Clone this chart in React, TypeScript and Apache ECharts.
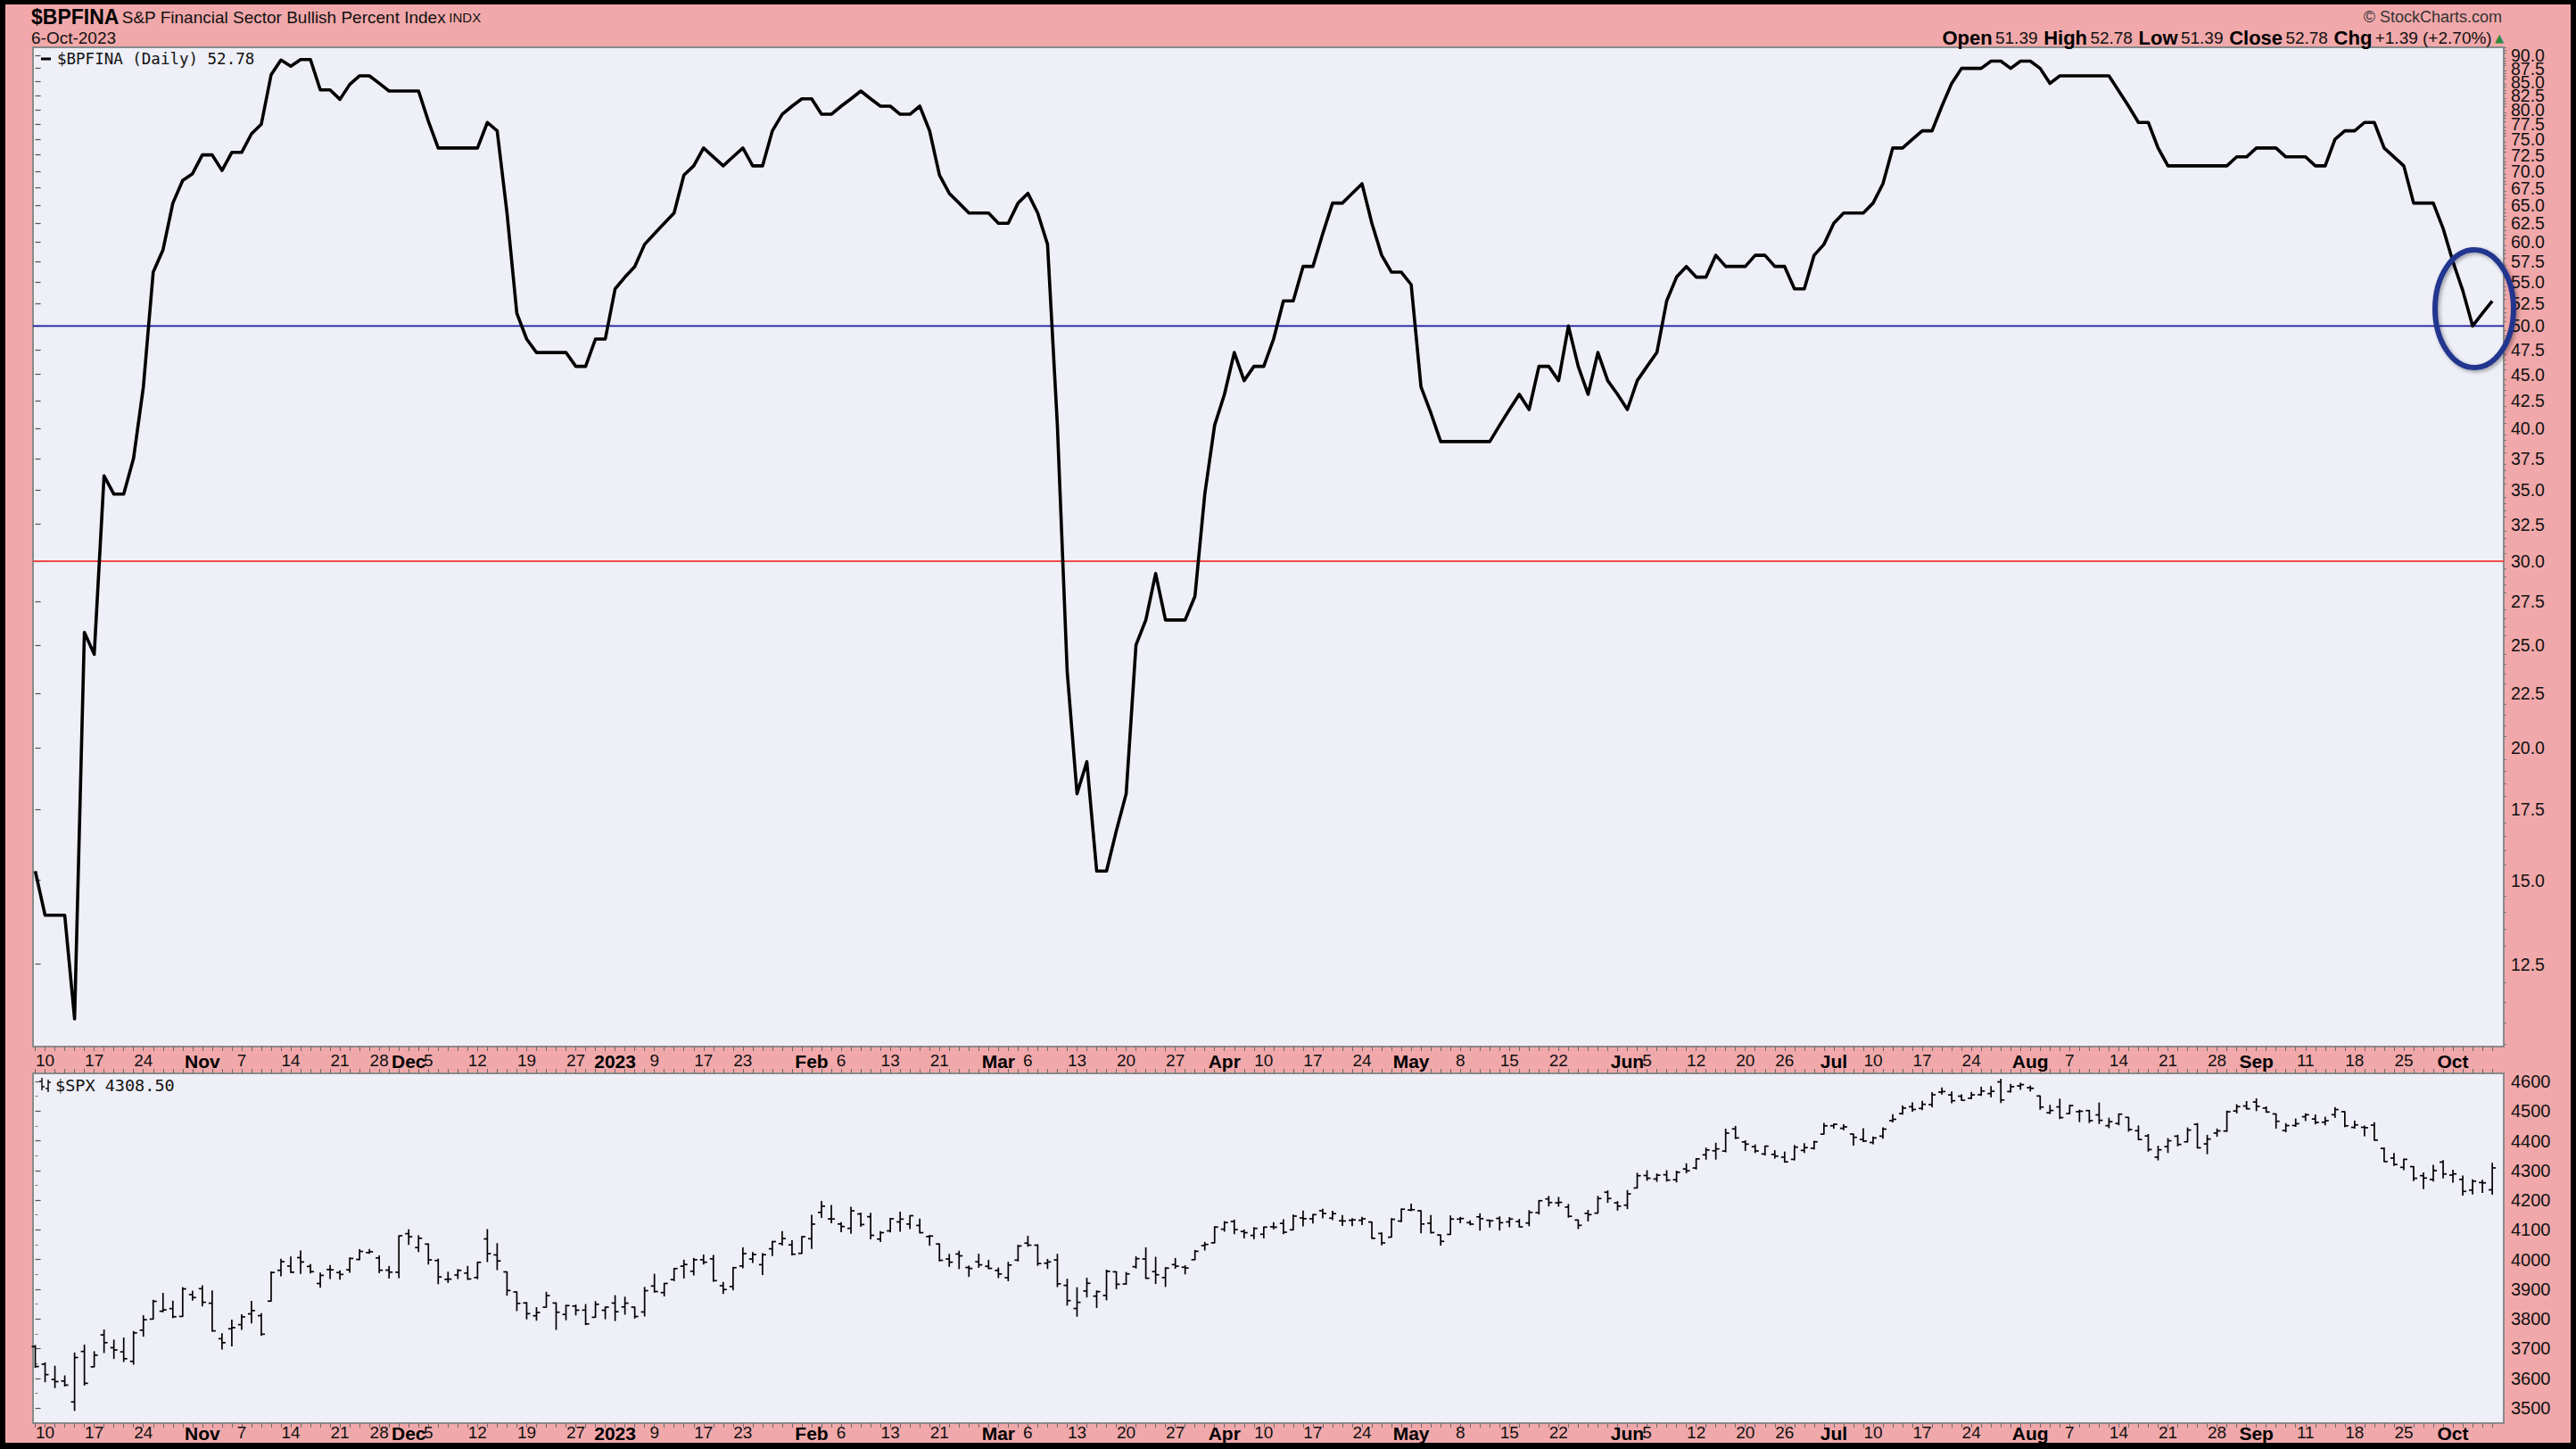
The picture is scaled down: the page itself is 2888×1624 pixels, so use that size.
import React, { useEffect, useRef } from "react";
import * as echarts from "echarts";

// ---------- calendar ----------
const startDate = "2022-10-07";
const endDate = "2023-10-06";
const marketHolidays = [
  "2022-11-24", "2022-12-26", "2023-01-02", "2023-01-16", "2023-02-20",
  "2023-04-07", "2023-05-29", "2023-06-19", "2023-07-04", "2023-09-04",
];

// ---------- date axis tick labels ----------
const tickDates = [
  "2022-10-10", "2022-10-17", "2022-10-24", "2022-11-01", "2022-11-07", "2022-11-14", "2022-11-21", "2022-11-28",
  "2022-12-01", "2022-12-05", "2022-12-12", "2022-12-19", "2022-12-27", "2023-01-03", "2023-01-09", "2023-01-17",
  "2023-01-23", "2023-02-01", "2023-02-06", "2023-02-13", "2023-02-21", "2023-03-01", "2023-03-06", "2023-03-13",
  "2023-03-20", "2023-03-27", "2023-04-03", "2023-04-10", "2023-04-17", "2023-04-24", "2023-05-01", "2023-05-08",
  "2023-05-15", "2023-05-22", "2023-06-01", "2023-06-05", "2023-06-12", "2023-06-20", "2023-06-26", "2023-07-03",
  "2023-07-10", "2023-07-17", "2023-07-24", "2023-08-01", "2023-08-07", "2023-08-14", "2023-08-21", "2023-08-28",
  "2023-09-01", "2023-09-11", "2023-09-18", "2023-09-25", "2023-10-02",
];
const tickTexts = [
  "10", "17", "24", "Nov", "7", "14", "21", "28",
  "Dec", "5", "12", "19", "27", "2023", "9", "17",
  "23", "Feb", "6", "13", "21", "Mar", "6", "13",
  "20", "27", "Apr", "10", "17", "24", "May", "8",
  "15", "22", "Jun", "5", "12", "20", "26", "Jul",
  "10", "17", "24", "Aug", "7", "14", "21", "28",
  "Sep", "11", "18", "25", "Oct",
];

// ---------- y axis labels ----------
const bpTickLabels = [12.5, 15, 17.5, 20, 22.5, 25, 27.5, 30, 32.5, 35, 37.5, 40, 42.5, 45, 47.5, 50, 52.5, 55, 57.5, 60, 62.5, 65, 67.5, 70, 72.5, 75, 77.5, 80, 82.5, 85, 87.5, 90];
const spxTickLabels = [3500, 3600, 3700, 3800, 3900, 4000, 4100, 4200, 4300, 4400, 4500, 4600];

// ---------- reference levels ----------
const upperLevel = 50;
const lowerLevel = 30;

// ---------- $BPFINA daily values ----------
const bpValues = [
  15.3, 13.9, 13.9, 13.9, 11.1, 25.7, 24.5, 36.1, 34.7, 34.7,
  37.5, 43.8, 56.2, 59.0, 65.3, 68.6, 69.6, 72.5, 72.5, 70.1,
  72.9, 72.9, 75.9, 77.5, 86.3, 89.1, 87.9, 89.2, 89.2, 83.5,
  83.5, 81.8, 84.5, 86.1, 86.1, 84.7, 83.3, 83.3, 83.3, 83.3,
  78.0, 73.6, 73.6, 73.6, 73.6, 73.6, 77.8, 76.4, 63.9, 51.4,
  48.6, 47.2, 47.2, 47.2, 47.2, 45.8, 45.8, 48.6, 48.6, 54.2,
  55.6, 56.9, 59.7, 61.1, 62.5, 63.9, 69.4, 70.8, 73.6, 72.2,
  70.8, 72.2, 73.6, 70.8, 70.8, 76.4, 79.2, 80.6, 81.9, 81.9,
  79.2, 79.2, 80.6, 81.9, 83.3, 81.9, 80.6, 80.6, 79.2, 79.2,
  80.6, 76.4, 69.4, 66.7, 65.3, 63.9, 63.9, 63.9, 62.5, 62.5,
  65.3, 66.7, 63.9, 59.7, 40.3, 23.6, 18.1, 19.4, 15.3, 15.3,
  16.7, 18.1, 25.0, 26.4, 29.2, 26.4, 26.4, 26.4, 27.8, 34.7,
  40.3, 43.1, 47.2, 44.4, 45.8, 45.8, 48.6, 52.8, 52.8, 56.9,
  56.9, 61.1, 65.3, 65.3, 66.7, 68.1, 62.5, 58.3, 56.2, 56.2,
  54.7, 43.8, 41.4, 38.9, 38.9, 38.9, 38.9, 38.9, 38.9, 40.3,
  41.7, 43.1, 41.7, 45.8, 45.8, 44.4, 50.0, 45.8, 43.1, 47.2,
  44.4, 43.1, 41.7, 44.4, 45.8, 47.2, 52.8, 55.6, 56.9, 55.6,
  55.6, 58.3, 56.9, 56.9, 56.9, 58.3, 58.3, 56.9, 56.9, 54.2,
  54.2, 58.3, 59.7, 62.5, 63.9, 63.9, 63.9, 65.3, 68.1, 73.6,
  73.6, 75.0, 76.4, 76.4, 80.6, 84.7, 87.5, 87.5, 87.5, 88.9,
  88.9, 87.5, 88.9, 88.9, 87.5, 84.7, 86.1, 86.1, 86.1, 86.1,
  86.1, 86.1, 83.3, 80.6, 77.8, 77.8, 73.6, 70.8, 70.8, 70.8,
  70.8, 70.8, 70.8, 70.8, 72.2, 72.2, 73.6, 73.6, 73.6, 72.2,
  72.2, 72.2, 70.8, 70.8, 75.0, 76.4, 76.4, 77.8, 77.8, 73.6,
  72.2, 70.8, 65.3, 65.3, 65.3, 61.8, 57.5, 54.0, 50.0, 51.39,
  52.78,
];

// ---------- $SPX daily OHLC ----------
const spxOpen = [
  3706.7, 3647.5, 3595.9, 3590.8, 3520.4, 3690.4, 3638.7, 3746.3, 3703.1, 3689.1,
  3657.1, 3762.0, 3799.4, 3825.9, 3834.7, 3808.3, 3881.9, 3901.8, 3852.9, 3733.3,
  3766.7, 3780.7, 3817.0, 3810.9, 3859.9, 3963.7, 3978.0, 4006.4, 3976.8, 3919.3,
  3966.4, 3956.2, 3965.5, 4000.3, 4023.3, 4005.4, 3964.2, 3957.2, 4087.1, 4040.2,
  4052.0, 3996.6, 3933.3, 3947.8, 3954.2, 3939.3, 4069.4, 4015.5, 3958.4, 3890.9,
  3853.8, 3810.5, 3839.5, 3853.6, 3815.1, 3843.3, 3829.6, 3805.5, 3829.1, 3853.3,
  3840.4, 3839.7, 3823.4, 3910.8, 3888.6, 3932.4, 3977.6, 3960.6, 3999.3, 4002.3,
  3911.8, 3909.0, 3978.1, 4001.7, 3982.7, 4036.1, 4053.7, 4049.3, 4020.9, 4070.1,
  4158.7, 4136.7, 4119.6, 4105.0, 4153.5, 4144.3, 4068.9, 4096.6, 4126.7, 4119.5,
  4114.8, 4077.4, 4052.4, 4001.8, 4018.6, 3973.2, 3992.4, 3977.2, 3963.3, 3938.7,
  3998.0, 4055.2, 4048.3, 3987.6, 3998.7, 3912.8, 3835.1, 3894.0, 3876.7, 3878.9,
  3958.7, 3917.5, 3975.9, 4002.0, 3959.2, 3939.2, 3982.9, 3974.1, 3999.5, 4046.7,
  4056.2, 4102.2, 4128.0, 4094.5, 4081.2, 4085.2, 4110.3, 4121.7, 4100.0, 4140.1,
  4137.2, 4164.3, 4139.3, 4130.5, 4132.1, 4132.1, 4126.4, 4087.8, 4075.3, 4129.6,
  4166.8, 4164.1, 4122.3, 4082.6, 4084.7, 4136.1, 4124.3, 4143.7, 4132.2, 4138.5,
  4126.7, 4127.9, 4122.9, 4157.7, 4204.2, 4190.8, 4176.8, 4133.0, 4155.7, 4156.2,
  4226.7, 4190.7, 4183.0, 4241.0, 4283.0, 4271.3, 4285.5, 4268.7, 4304.9, 4308.3,
  4352.6, 4366.3, 4365.3, 4440.0, 4396.1, 4380.0, 4355.4, 4354.2, 4344.8, 4337.4,
  4367.5, 4374.9, 4422.4, 4450.5, 4442.0, 4422.6, 4404.5, 4394.2, 4415.6, 4467.7,
  4491.5, 4514.6, 4508.9, 4521.8, 4563.9, 4554.4, 4550.2, 4543.4, 4555.2, 4559.0,
  4598.3, 4565.8, 4584.8, 4578.8, 4550.9, 4494.3, 4514.0, 4491.6, 4498.0, 4501.6,
  4487.2, 4450.7, 4458.1, 4478.9, 4433.8, 4416.3, 4344.9, 4380.3, 4415.3, 4396.4,
  4455.2, 4389.4, 4426.0, 4432.8, 4500.3, 4517.0, 4530.6, 4510.1, 4490.4, 4434.6,
  4451.3, 4481.0, 4473.3, 4462.6, 4487.8, 4498.0, 4445.1, 4445.4, 4452.8, 4374.4,
  4341.7, 4310.6, 4312.9, 4282.6, 4269.7, 4328.2, 4284.5, 4269.8, 4233.8, 4259.3,
  4234.8,
];
const spxHigh = [
  3710.5, 3652.2, 3640.7, 3608.3, 3685.4, 3712.0, 3689.7, 3762.8, 3728.6, 3736.0,
  3757.9, 3810.7, 3862.9, 3886.2, 3859.9, 3905.4, 3893.7, 3911.8, 3894.4, 3750.6,
  3796.3, 3813.9, 3859.4, 3818.2, 3958.3, 4001.5, 4009.0, 4028.8, 3983.1, 3954.3,
  3979.9, 3962.0, 4005.9, 4033.8, 4034.0, 4012.3, 3976.8, 4080.1, 4100.5, 4080.5,
  4052.5, 4001.5, 3957.6, 3966.4, 3977.0, 3990.7, 4101.0, 4053.8, 3958.4, 3890.9,
  3854.9, 3838.2, 3889.8, 3853.6, 3845.8, 3846.7, 3848.3, 3858.2, 3839.9, 3878.5,
  3873.2, 3839.7, 3906.2, 3950.6, 3919.8, 3970.1, 3997.8, 4004.0, 4015.4, 4014.2,
  3922.9, 3973.0, 4039.3, 4023.9, 4019.6, 4061.6, 4094.2, 4063.9, 4077.2, 4149.0,
  4195.4, 4182.4, 4124.6, 4176.5, 4156.9, 4156.2, 4094.4, 4138.9, 4159.8, 4148.1,
  4136.5, 4081.5, 4052.4, 4017.4, 4028.3, 3978.3, 4018.1, 3997.5, 3971.7, 3990.8,
  4048.3, 4078.5, 4050.0, 4000.4, 4017.8, 3934.0, 3905.1, 3937.3, 3894.3, 3964.5,
  3958.9, 3956.6, 4009.1, 4039.5, 4007.7, 3972.7, 4003.8, 3979.2, 4030.6, 4057.9,
  4110.8, 4127.7, 4133.1, 4099.7, 4107.3, 4109.5, 4124.3, 4134.4, 4150.3, 4163.2,
  4151.7, 4169.5, 4162.6, 4148.6, 4138.0, 4142.4, 4126.4, 4089.7, 4138.2, 4170.1,
  4186.9, 4164.1, 4148.3, 4082.6, 4147.0, 4142.3, 4130.4, 4154.3, 4132.8, 4143.7,
  4141.3, 4135.5, 4164.7, 4198.7, 4212.9, 4209.2, 4185.7, 4133.0, 4165.7, 4212.9,
  4231.1, 4195.4, 4232.4, 4290.7, 4299.3, 4288.3, 4299.2, 4298.0, 4322.6, 4340.1,
  4375.4, 4391.8, 4439.2, 4448.5, 4400.1, 4386.2, 4382.3, 4366.6, 4362.1, 4384.4,
  4390.4, 4398.4, 4458.5, 4456.5, 4454.1, 4422.6, 4440.4, 4412.6, 4443.6, 4488.3,
  4517.4, 4527.8, 4532.9, 4562.3, 4578.4, 4564.7, 4555.0, 4563.4, 4580.6, 4582.5,
  4607.1, 4590.2, 4594.2, 4584.6, 4550.9, 4519.5, 4540.3, 4519.8, 4503.3, 4502.4,
  4527.4, 4476.2, 4490.3, 4478.9, 4450.0, 4421.2, 4381.8, 4407.6, 4418.6, 4443.2,
  4458.3, 4418.5, 4439.6, 4500.1, 4521.7, 4532.3, 4541.3, 4514.3, 4490.4, 4457.8,
  4473.5, 4490.8, 4487.1, 4479.4, 4512.0, 4498.0, 4466.4, 4449.9, 4461.0, 4375.7,
  4357.4, 4338.5, 4313.0, 4292.1, 4317.3, 4333.2, 4300.6, 4281.2, 4268.5, 4267.1,
  4324.1,
];
const spxLow = [
  3636.5, 3588.1, 3568.5, 3573.9, 3491.6, 3577.0, 3638.7, 3686.5, 3666.5, 3656.4,
  3647.4, 3741.7, 3799.4, 3824.1, 3803.8, 3808.3, 3863.2, 3843.8, 3758.7, 3698.2,
  3708.8, 3764.7, 3786.3, 3744.2, 3859.9, 3944.8, 3956.4, 3953.2, 3954.3, 3906.5,
  3936.0, 3933.3, 3956.9, 3998.7, 4020.8, 3955.8, 3937.7, 3938.6, 4050.9, 4026.6,
  3984.5, 3918.4, 3922.7, 3935.8, 3933.0, 3935.3, 3993.0, 3965.7, 3879.5, 3827.9,
  3800.0, 3795.6, 3839.5, 3764.5, 3797.0, 3813.2, 3780.8, 3805.5, 3800.3, 3794.3,
  3815.8, 3802.4, 3809.6, 3890.4, 3877.3, 3928.5, 3937.6, 3947.7, 3984.6, 3926.6,
  3885.5, 3897.9, 3971.6, 3989.8, 3949.1, 4013.3, 4048.7, 4015.6, 4020.4, 4037.2,
  4141.9, 4123.4, 4093.4, 4088.4, 4111.7, 4069.7, 4060.8, 4092.7, 4095.0, 4104.0,
  4089.5, 4048.0, 3995.2, 3976.9, 3969.2, 3943.1, 3973.6, 3969.0, 3939.1, 3928.2,
  3995.2, 4044.6, 3980.3, 3969.8, 3908.7, 3846.3, 3808.9, 3873.6, 3838.2, 3864.1,
  3901.3, 3916.9, 3971.2, 3936.2, 3919.1, 3909.2, 3970.5, 3951.5, 3999.5, 4032.1,
  4056.2, 4095.3, 4086.9, 4072.6, 4069.8, 4072.5, 4102.6, 4086.9, 4099.4, 4113.2,
  4123.2, 4140.4, 4134.5, 4114.6, 4113.9, 4117.8, 4071.4, 4049.4, 4075.3, 4127.2,
  4164.1, 4089.7, 4088.9, 4048.3, 4084.7, 4123.8, 4116.7, 4098.9, 4109.3, 4099.1,
  4110.3, 4109.9, 4113.6, 4153.1, 4180.2, 4179.7, 4142.5, 4104.0, 4129.7, 4156.2,
  4192.2, 4166.2, 4171.6, 4241.0, 4266.8, 4263.1, 4264.0, 4261.1, 4291.7, 4304.4,
  4337.7, 4337.9, 4362.6, 4407.4, 4367.2, 4360.1, 4351.8, 4341.3, 4328.1, 4335.0,
  4360.2, 4372.0, 4422.4, 4442.3, 4436.6, 4385.1, 4397.4, 4389.9, 4408.5, 4463.2,
  4489.4, 4499.6, 4504.9, 4514.6, 4557.5, 4527.6, 4535.8, 4541.3, 4552.4, 4547.6,
  4528.6, 4564.0, 4573.1, 4567.5, 4505.8, 4491.2, 4474.6, 4491.2, 4464.4, 4461.3,
  4457.9, 4444.0, 4453.4, 4432.2, 4403.6, 4364.8, 4335.3, 4360.3, 4382.8, 4396.4,
  4375.6, 4356.3, 4415.0, 4431.7, 4493.6, 4507.4, 4501.4, 4496.0, 4442.4, 4430.5,
  4448.4, 4467.9, 4456.8, 4453.5, 4478.7, 4447.2, 4442.1, 4416.6, 4401.4, 4329.2,
  4316.5, 4302.7, 4266.0, 4238.6, 4264.4, 4274.9, 4260.2, 4216.5, 4220.5, 4225.9,
  4219.6,
];
const spxClose = [
  3639.7, 3612.4, 3588.8, 3577.0, 3669.9, 3583.1, 3677.9, 3720.0, 3695.2, 3665.8,
  3752.8, 3797.3, 3859.1, 3830.6, 3807.3, 3901.1, 3872.0, 3856.1, 3759.7, 3719.9,
  3770.6, 3806.8, 3828.1, 3748.6, 3956.4, 3992.9, 3957.3, 3991.7, 3959.0, 3946.6,
  3965.3, 3949.9, 4003.6, 4027.3, 4026.1, 3963.9, 3957.6, 4080.1, 4076.6, 4071.7,
  3998.8, 3941.3, 3933.9, 3963.5, 3934.4, 3990.6, 4019.7, 3995.3, 3895.8, 3852.4,
  3817.7, 3821.6, 3878.4, 3822.4, 3844.8, 3829.3, 3783.2, 3849.3, 3839.5, 3824.1,
  3853.0, 3808.1, 3895.1, 3892.1, 3919.3, 3969.6, 3983.2, 3999.1, 3991.0, 3928.9,
  3898.9, 3972.6, 4019.8, 4017.0, 4016.2, 4060.4, 4070.6, 4017.8, 4076.6, 4119.2,
  4179.8, 4136.5, 4111.1, 4164.0, 4117.9, 4081.5, 4090.5, 4137.3, 4136.1, 4147.6,
  4090.4, 4079.1, 3997.3, 3991.1, 4012.3, 3970.0, 3982.2, 3970.2, 3951.4, 3981.4,
  4045.6, 4048.4, 3986.4, 3992.0, 3918.3, 3861.6, 3855.8, 3920.0, 3891.9, 3960.3,
  3916.6, 3951.6, 4002.9, 3937.0, 3948.7, 3971.0, 3977.5, 3971.3, 4027.8, 4050.8,
  4109.3, 4124.5, 4100.6, 4090.4, 4105.0, 4109.1, 4108.9, 4092.0, 4146.2, 4137.6,
  4151.3, 4154.9, 4154.5, 4129.8, 4133.5, 4137.0, 4071.6, 4056.0, 4135.4, 4169.5,
  4167.9, 4119.6, 4090.8, 4061.2, 4136.3, 4138.1, 4119.2, 4137.6, 4130.6, 4124.1,
  4136.3, 4109.9, 4158.8, 4198.1, 4192.0, 4192.6, 4145.6, 4115.2, 4151.3, 4205.5,
  4205.5, 4179.8, 4221.0, 4282.4, 4273.8, 4283.9, 4267.5, 4293.9, 4298.9, 4338.9,
  4369.0, 4372.6, 4425.8, 4409.6, 4388.7, 4365.7, 4381.9, 4348.3, 4328.8, 4378.4,
  4376.9, 4396.4, 4450.4, 4455.6, 4446.8, 4411.6, 4399.0, 4409.5, 4439.3, 4472.2,
  4510.0, 4505.4, 4522.8, 4555.0, 4565.7, 4534.9, 4536.3, 4554.6, 4567.5, 4566.8,
  4537.4, 4582.2, 4589.0, 4576.7, 4513.4, 4501.9, 4478.0, 4518.4, 4499.4, 4467.7,
  4468.8, 4464.1, 4489.7, 4437.9, 4404.3, 4370.4, 4369.7, 4399.8, 4387.6, 4436.0,
  4376.3, 4405.7, 4433.3, 4497.6, 4514.9, 4507.7, 4515.8, 4496.8, 4465.5, 4451.1,
  4457.5, 4487.5, 4461.9, 4467.4, 4505.1, 4450.3, 4453.5, 4444.0, 4402.2, 4330.0,
  4320.1, 4337.4, 4273.5, 4274.5, 4299.7, 4288.1, 4288.4, 4229.5, 4263.8, 4258.2,
  4308.5,
];

// ---------- helpers ----------
function tradingDays(): string[] {
  const out: string[] = [];
  const d = new Date(startDate + "T00:00:00Z");
  const end = new Date(endDate + "T00:00:00Z");
  while (d <= end) {
    const wd = d.getUTCDay();
    const s = d.toISOString().slice(0, 10);
    if (wd !== 0 && wd !== 6 && !marketHolidays.includes(s)) out.push(s);
    d.setUTCDate(d.getUTCDate() + 1);
  }
  return out;
}

const FONT = "'Liberation Sans',Arial,sans-serif";
const MONO = "'DejaVu Sans Mono',monospace";
const PINK = "#F1A8AA";
const PLOT_BG = "#EEEFF7";
const BORDER = "#8a8a8a";
const BP_MIN = 10.45;
const BP_MAX = 91.6;

function buildOption() {
  const dates = tradingDays();
  const idxOf: Record<string, number> = {};
  dates.forEach((d, i) => (idxOf[d] = i));
  const tickIdx = tickDates.map((d) => idxOf[d]).filter((v) => v !== undefined);
  const labelByIdx: Record<number, string> = {};
  tickDates.forEach((d, k) => {
    if (idxOf[d] !== undefined) labelByIdx[idxOf[d]] = tickTexts[k];
  });
  const dayIdx = dates.map((_, i) => i);
  const xMin = -0.23;
  const xMax = dates.length - 1 + 1.17;

  const bpMinor: number[] = [];
  for (let v = 10.5; v <= 91.5; v += 0.5) {
    if (!bpTickLabels.includes(v)) bpMinor.push(v);
  }
  const bpLabelsA = bpTickLabels.filter((_, k) => k % 2 === 0);
  const bpLabelsB = bpTickLabels.filter((_, k) => k % 2 === 1);
  const spxMinor: number[] = [];
  for (let v = 3450; v <= 4625; v += 50) if (v % 100 !== 0) spxMinor.push(v);

  const xLabel = (v: number) => {
    const t = labelByIdx[Math.round(v)];
    if (t === undefined) return "";
    return /^[A-Z]/.test(t) || t.length === 4 ? `{m|${t}}` : `{d|${t}}`;
  };
  const xRich = {
    m: { fontFamily: FONT, fontSize: 21, fontWeight: "bold", color: "#000" },
    d: { fontFamily: FONT, fontSize: 19, color: "#111" },
  };

  const G0 = { left: 31, top: 48, width: 2770, height: 1120 };
  const G1 = { left: 31, top: 1198, width: 2770, height: 392 };

  const bpData = bpValues.map((v, i) => [i, v]);
  const ohlc = spxClose.map((c, i) => [i, spxOpen[i], spxHigh[i], spxLow[i], c]);

  const xTick = { show: true, customValues: dayIdx, length: 5, lineStyle: { color: "#6a6a6a", width: 1 } };
  const bpLabelStyle = {
    margin: 8, showMinLabel: true, showMaxLabel: true,
    formatter: (v: number) => Number(v).toFixed(1),
    fontFamily: FONT, fontSize: 19.5, color: "#111",
  };

  return {
    animation: false,
    backgroundColor: PINK,
    grid: [
      { ...G0, show: true, backgroundColor: PLOT_BG, borderColor: BORDER, borderWidth: 2 },
      { ...G1, show: true, backgroundColor: PLOT_BG, borderColor: BORDER, borderWidth: 2 },
    ],
    xAxis: [
      {
        gridIndex: 0, type: "value", min: xMin, max: xMax, position: "bottom",
        axisLine: { show: false }, splitLine: { show: false },
        axisTick: xTick,
        axisLabel: { show: true, customValues: tickIdx, formatter: xLabel, rich: xRich, margin: 6, showMinLabel: true, showMaxLabel: true },
      },
      {
        gridIndex: 1, type: "value", min: xMin, max: xMax, position: "bottom",
        axisLine: { show: false }, splitLine: { show: false },
        axisTick: xTick,
        axisLabel: { show: true, customValues: tickIdx, formatter: xLabel, rich: xRich, margin: 1, showMinLabel: true, showMaxLabel: true },
      },
      {
        gridIndex: 1, type: "value", min: xMin, max: xMax, position: "top",
        axisLine: { show: false }, splitLine: { show: false },
        axisTick: xTick,
        axisLabel: { show: false },
      },
    ],
    yAxis: [
      {
        gridIndex: 0, type: "log", logBase: 10, min: BP_MIN, max: BP_MAX, position: "right",
        axisLine: { show: false }, splitLine: { show: false },
        axisTick: { show: true, customValues: bpTickLabels, length: 6, lineStyle: { color: "#555", width: 1.2 } },
        axisLabel: { show: true, customValues: bpLabelsA, ...bpLabelStyle },
      },
      {
        gridIndex: 0, type: "log", logBase: 10, min: BP_MIN, max: BP_MAX, position: "right",
        axisLine: { show: false }, splitLine: { show: false },
        axisTick: { show: true, customValues: bpMinor, length: 3, lineStyle: { color: "#777", width: 1 } },
        axisLabel: { show: true, customValues: bpLabelsB, ...bpLabelStyle },
      },
      {
        gridIndex: 1, type: "value", min: 3449, max: 4627, position: "right",
        axisLine: { show: false }, splitLine: { show: false },
        axisTick: { show: true, customValues: spxTickLabels, length: 6, lineStyle: { color: "#555", width: 1.2 } },
        axisLabel: {
          show: true, customValues: spxTickLabels, margin: 8, showMinLabel: true, showMaxLabel: true,
          formatter: (v: number) => String(Math.round(v)),
          fontFamily: FONT, fontSize: 20, color: "#111",
        },
      },
      {
        gridIndex: 1, type: "value", min: 3449, max: 4627, position: "right",
        axisLine: { show: false }, splitLine: { show: false },
        axisTick: { show: true, customValues: spxMinor, length: 3, lineStyle: { color: "#777", width: 1 } },
        axisLabel: { show: false },
      },
    ],
    series: [
      {
        type: "line",
        name: "level50",
        xAxisIndex: 0,
        yAxisIndex: 0,
        data: [[xMin, upperLevel], [xMax, upperLevel]],
        showSymbol: false,
        symbol: "none",
        silent: true,
        color: "#1a1a9c",
        lineStyle: { color: "#1a1a9c", width: 1.8, opacity: 1 },
        z: 3,
      },
      {
        type: "line",
        name: "level30",
        xAxisIndex: 0,
        yAxisIndex: 0,
        data: [[xMin, lowerLevel], [xMax, lowerLevel]],
        showSymbol: false,
        symbol: "none",
        silent: true,
        color: "#ee4a48",
        lineStyle: { color: "#ee4a48", width: 2, opacity: 1 },
        z: 3,
      },
      {
        type: "line",
        name: "$BPFINA",
        xAxisIndex: 0,
        yAxisIndex: 0,
        data: bpData,
        showSymbol: false,
        symbol: "none",
        lineStyle: { color: "#000", width: 3.6, join: "round" },
        z: 5,
      },
      {
        type: "custom",
        name: "$SPX",
        xAxisIndex: 1,
        yAxisIndex: 2,
        data: ohlc,
        encode: { x: 0, y: [1, 2, 3, 4] },
        renderItem: (params: any, api: any) => {
          const i = api.value(0);
          const pO = api.coord([i, api.value(1)]);
          const pH = api.coord([i, api.value(2)]);
          const pL = api.coord([i, api.value(3)]);
          const pC = api.coord([i, api.value(4)]);
          const w = 4;
          const st = { stroke: "#000", lineWidth: 1.7 };
          return {
            type: "group",
            children: [
              { type: "line", shape: { x1: pH[0], y1: pH[1] - 0.5, x2: pL[0], y2: pL[1] + 0.5 }, style: st },
              { type: "line", shape: { x1: pO[0] - w, y1: pO[1], x2: pO[0], y2: pO[1] }, style: st },
              { type: "line", shape: { x1: pC[0], y1: pC[1], x2: pC[0] + w, y2: pC[1] }, style: st },
            ],
          };
        },
        z: 5,
      },
    ],
    graphic: [
      {
        type: "text", x: 29, y: 14, z: 50,
        style: {
          text: "{t|$BPFINA} {s|S&P Financial Sector Bullish Percent Index} {x|INDX}",
          verticalAlign: "middle",
          rich: {
            t: { fontFamily: FONT, fontSize: 23, fontWeight: "bold", fill: "#000" },
            s: { fontFamily: FONT, fontSize: 19, fill: "#111" },
            x: { fontFamily: FONT, fontSize: 15, fill: "#111" },
          },
        },
      },
      {
        type: "text", x: 29, y: 37, z: 50,
        style: { text: "6-Oct-2023", fontFamily: FONT, fontSize: 19, fill: "#111", verticalAlign: "middle" },
      },
      {
        type: "text", x: 2799, y: 14, z: 50,
        style: { text: "© StockCharts.com", fontFamily: FONT, fontSize: 18, fill: "#333", align: "right", verticalAlign: "middle" },
      },
      {
        type: "text", x: 2801, y: 37, z: 50,
        style: {
          text: "{b|Open} {v|51.39}  {b|High} {v|52.78}  {b|Low} {v|51.39}  {b|Close} {v|52.78}  {b|Chg} {v|+1.39 (+2.70%)} {g|▲}",
          align: "right",
          verticalAlign: "middle",
          rich: {
            b: { fontFamily: FONT, fontSize: 22, fontWeight: "bold", fill: "#000" },
            v: { fontFamily: FONT, fontSize: 19, fill: "#111" },
            g: { fontFamily: "'DejaVu Sans',sans-serif", fontSize: 13, fill: "#2e8b3e" },
          },
        },
      },
      {
        type: "line", z: 50,
        shape: { x1: 40, y1: 61, x2: 51, y2: 61 },
        style: { stroke: "#000", lineWidth: 3 },
      },
      {
        type: "text", x: 58, y: 61, z: 50,
        style: { text: "$BPFINA (Daily) 52.78", fontFamily: MONO, fontSize: 17.5, fill: "#111", verticalAlign: "middle" },
      },
      {
        type: "group", x: 38, y: 1203, z: 50,
        children: [
          { type: "line", shape: { x1: 3, y1: 0, x2: 3, y2: 14 }, style: { stroke: "#000", lineWidth: 1.4 } },
          { type: "line", shape: { x1: 0, y1: 4, x2: 3, y2: 4 }, style: { stroke: "#000", lineWidth: 1.4 } },
          { type: "line", shape: { x1: 3, y1: 10, x2: 6, y2: 10 }, style: { stroke: "#000", lineWidth: 1.4 } },
          { type: "line", shape: { x1: 10, y1: 2, x2: 10, y2: 16 }, style: { stroke: "#000", lineWidth: 1.4 } },
          { type: "line", shape: { x1: 7, y1: 12, x2: 10, y2: 12 }, style: { stroke: "#000", lineWidth: 1.4 } },
          { type: "line", shape: { x1: 10, y1: 5, x2: 13, y2: 5 }, style: { stroke: "#000", lineWidth: 1.4 } },
        ],
      },
      {
        type: "text", x: 56, y: 1211, z: 50,
        style: { text: "$SPX 4308.50", fontFamily: MONO, fontSize: 18.5, fill: "#111", verticalAlign: "middle" },
      },
      {
        type: "ellipse", z: 60,
        shape: { cx: 2768, cy: 341, rx: 44, ry: 66 },
        style: {
          fill: "none", stroke: "#22358f", lineWidth: 6,
          shadowBlur: 4, shadowColor: "rgba(0,0,0,0.35)", shadowOffsetX: 2, shadowOffsetY: 2,
        },
      },
    ],
  };
}

export default function App() {
  const ref = useRef<HTMLDivElement>(null);
  useEffect(() => {
    if (!ref.current) return;
    const chart = echarts.init(ref.current, null, { renderer: "svg" });
    chart.setOption(buildOption() as any);
    return () => chart.dispose();
  }, []);
  return (
    <div style={{ position: "fixed", left: 0, top: 0, width: 2888, height: 1624, background: "#000" }}>
      <div ref={ref} style={{ position: "absolute", left: 6, top: 5, width: 2876, height: 1612 }} />
    </div>
  );
}
